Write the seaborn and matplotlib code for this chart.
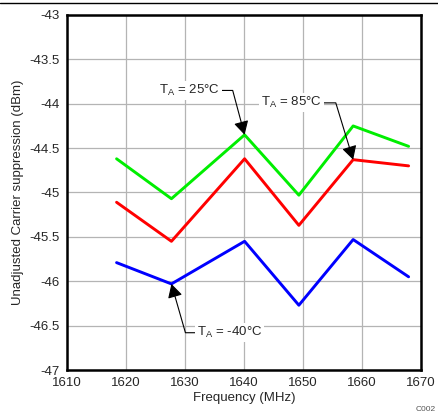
import pandas as pd
import seaborn as sns
import matplotlib.pyplot as plt
from matplotlib.lines import Line2D

# data
freq = [1618.4, 1627.7, 1640.1, 1649.3, 1658.5, 1667.9]
supp_25 = [-44.62, -45.07, -44.35, -45.03, -44.25, -44.48]
supp_85 = [-45.11, -45.55, -44.62, -45.37, -44.63, -44.70]
supp_m40 = [-45.79, -46.03, -45.55, -46.27, -45.53, -45.95]
labels = ['25', '85', '-40']
colors = {'25': '#00ee00', '85': '#ff0000', '-40': '#0000ff'}
x_ticks = [1610, 1620, 1630, 1640, 1650, 1660, 1670]
y_ticks = [-47, -46.5, -46, -45.5, -45, -44.5, -44, -43.5, -43]


def vis():
    sns.set_style('white')
    plt.rcParams['font.family'] = ['Liberation Sans', 'DejaVu Sans']
    plt.rcParams['mathtext.fontset'] = 'custom'
    plt.rcParams['mathtext.rm'] = 'Liberation Sans'
    plt.rcParams['axes.unicode_minus'] = False

    df = pd.DataFrame({
        'freq': freq * 3,
        'value': supp_25 + supp_85 + supp_m40,
        'temp': [t for t in labels for _ in freq],
    })

    fig = plt.figure(figsize=(4.38, 4.15), dpi=100)
    ax = fig.add_axes([67 / 438, 45 / 415, 354 / 438, 355 / 415])
    sns.lineplot(data=df, x='freq', y='value', hue='temp', palette=colors,
                 linewidth=2.1, legend=False, ax=ax, zorder=3)

    ax.set_xlim(1610, 1670)
    ax.set_ylim(-47, -43)
    ax.set_xticks(x_ticks)
    ax.set_yticks(y_ticks)
    ax.set_yticklabels([f'{v:g}' for v in y_ticks])
    ax.tick_params(length=0, labelsize=9.5, pad=5)
    ax.grid(True, color='#b4b4b4', linewidth=0.9)
    for s in ax.spines.values():
        s.set_color('black')
        s.set_linewidth(1.8)
    ax.set_xlabel('Frequency (MHz)', fontsize=9.5, labelpad=2)
    ax.set_ylabel('Unadjusted Carrier suppression (dBm)', fontsize=9.5, labelpad=4)

    box = dict(boxstyle='square,pad=0.15', fc='white', ec='none')
    arrow = dict(arrowstyle='-|>,head_length=0.55,head_width=0.3', color='black',
                 lw=0.8, mutation_scale=15, shrinkA=0, shrinkB=0)
    ax.annotate(r'T$_\mathrm{A}$ = 25°C', xy=(freq[2], supp_25[2]),
                xytext=(1630.8, -43.85), ha='center', va='center', fontsize=9.5,
                bbox=box, zorder=5,
                arrowprops=dict(arrow, connectionstyle='angle,angleA=0,angleB=105,rad=0'))
    ax.annotate(r'T$_\mathrm{A}$ = 85°C', xy=(freq[4], supp_85[4]),
                xytext=(1648.0, -43.99), ha='center', va='center', fontsize=9.5,
                bbox=box, zorder=5,
                arrowprops=dict(arrow, connectionstyle='angle,angleA=0,angleB=107,rad=0'))
    ax.annotate(r'T$_\mathrm{A}$ = -40°C', xy=(freq[1], supp_m40[1]),
                xytext=(1637.6, -46.58), ha='center', va='center', fontsize=9.5,
                bbox=box, zorder=5,
                arrowprops=dict(arrow, connectionstyle='angle,angleA=0,angleB=-74,rad=0'))

    fig.add_artist(Line2D([0, 1], [1 - 3 / 415, 1 - 3 / 415], color='black', lw=1))
    fig.text(436 / 438, 2 / 415, 'C002', fontsize=6, color='#555555', ha='right', va='bottom')

    fig.savefig('out.png', dpi=100)


if __name__ == "__main__":
    vis()
